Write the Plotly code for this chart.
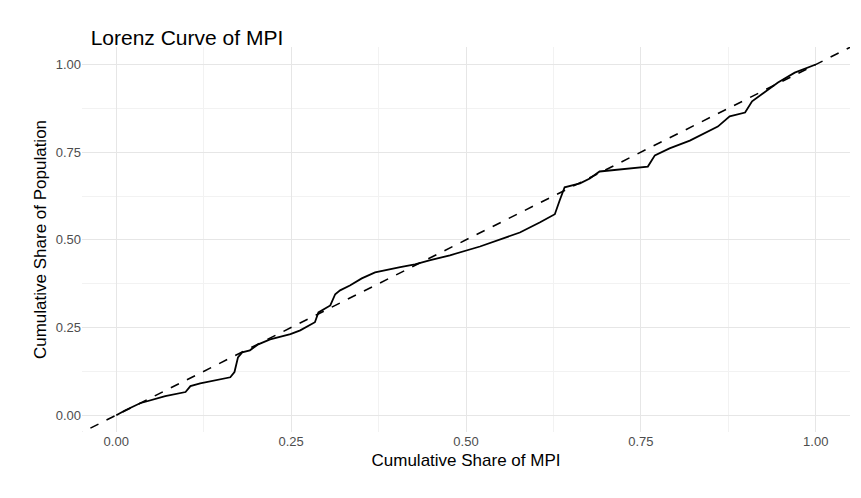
import plotly.graph_objects as go

# Lorenz curve points
share_mpi = [0, 0.013, 0.034, 0.049, 0.07, 0.099, 0.106, 0.12, 0.141, 0.163, 0.169, 0.174, 0.18,
             0.191, 0.203, 0.22, 0.249, 0.263, 0.284, 0.289, 0.306, 0.313, 0.32, 0.334, 0.351,
             0.37, 0.406, 0.427, 0.449, 0.477, 0.52, 0.556, 0.577, 0.606, 0.627, 0.634, 0.641,
             0.663, 0.677, 0.691, 0.72, 0.76, 0.77, 0.791, 0.82, 0.841, 0.86, 0.877, 0.899,
             0.909, 0.927, 0.946, 0.97, 1.0]
share_pop = [0, 0.014, 0.034, 0.043, 0.054, 0.066, 0.083, 0.091, 0.1, 0.108, 0.123, 0.165, 0.179,
             0.185, 0.202, 0.216, 0.231, 0.242, 0.265, 0.293, 0.313, 0.345, 0.356, 0.37, 0.39,
             0.407, 0.422, 0.43, 0.442, 0.456, 0.481, 0.507, 0.521, 0.55, 0.573, 0.613, 0.65,
             0.661, 0.675, 0.695, 0.701, 0.709, 0.741, 0.761, 0.783, 0.803, 0.823, 0.852, 0.863,
             0.895, 0.92, 0.949, 0.977, 1.0]
diag = [-0.06, 1.06]
ticks = [0, 0.25, 0.5, 0.75, 1.0]
tick_text = ["0.00", "0.25", "0.50", "0.75", "1.00"]

fig = go.Figure()
fig.add_trace(go.Scatter(x=share_mpi, y=share_pop, mode="lines",
                         line=dict(color="black", width=1.8), showlegend=False))
fig.add_trace(go.Scatter(x=diag, y=diag, mode="lines",
                         line=dict(color="black", width=1.6, dash="dash"), showlegend=False))

axis_common = dict(tickvals=ticks, ticktext=tick_text, showgrid=True, gridcolor="#E6E6E6",
                   gridwidth=1.2, zeroline=False, showline=False, ticks="",
                   tickfont=dict(size=13, color="#4D4D4D"),
                   minor=dict(dtick=0.125, tick0=0.125, showgrid=True, gridcolor="#F2F2F2", gridwidth=0.8))

fig.update_layout(
    width=861, height=498, plot_bgcolor="white", paper_bgcolor="white",
    font=dict(family="Liberation Sans, Arial", color="black"),
    title=dict(text="Lorenz Curve of MPI", x=0.096, xanchor="left", y=0.955, font=dict(size=21)),
    margin=dict(l=74, r=19, t=39, b=74),
    xaxis=dict(range=[-0.049, 1.049],
               title=dict(text="Cumulative Share of MPI", font=dict(size=17), standoff=6),
               **axis_common),
    yaxis=dict(range=[-0.048, 1.05],
               title=dict(text="Cumulative Share of Population", font=dict(size=17), standoff=4),
               **axis_common),
)
fig.write_html("out.html")
